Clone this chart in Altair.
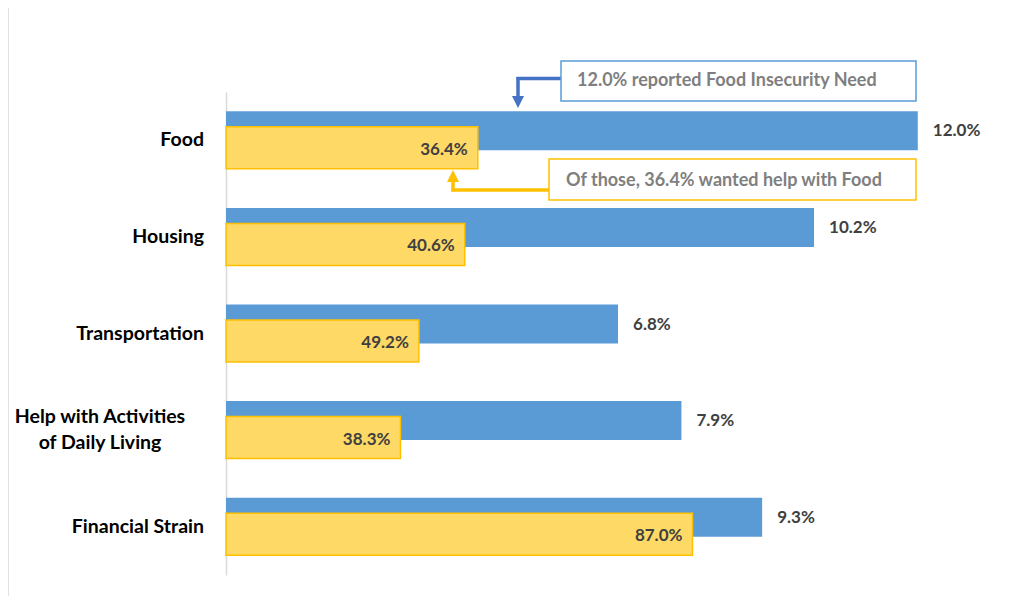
import altair as alt
import pandas as pd

categories = ["Food", "Housing", "Transportation",
              "Help with Activities of Daily Living", "Financial Strain"]
label_lines = ["Food", "Housing", "Transportation",
               "Help with Activities|of Daily Living", "Financial Strain"]
need_pct = [12.0, 10.2, 6.8, 7.9, 9.3]
wanted_pct = [36.4, 40.6, 49.2, 38.3, 87.0]

df = pd.DataFrame({"category": categories, "label": label_lines,
                   "need": need_pct, "wanted": wanted_pct})
one = pd.DataFrame({"k": [0]})

FONT = "Lato"
W, H = 780, 483
xscale = alt.Scale(domain=[0, 13.53], nice=False, zero=True)
yenc = alt.Y("category:N", sort=categories,
             scale=alt.Scale(paddingInner=0, paddingOuter=0),
             axis=alt.Axis(labels=False, ticks=False, title=None, grid=False,
                           domainColor="#D9D9D9", domainWidth=1.5))

base = alt.Chart(df).transform_calculate(
    help="datum.need * datum.wanted / 100",
    need_lbl="format(datum.need, '.1f') + '%'",
    wanted_lbl="format(datum.wanted, '.1f') + '%'",
)

blue = base.mark_bar(color="#5B9BD5", height=39, yOffset=-9.5).encode(
    x=alt.X("need:Q", scale=xscale, axis=None), y=yenc)
yellow = base.mark_bar(color="#FFD966", stroke="#FFC000", strokeWidth=1.5,
                       height=42, yOffset=7.5).encode(
    x=alt.X("help:Q", scale=xscale, axis=None), y=yenc)

blue_lbl = base.mark_text(align="left", baseline="middle", dx=15, yOffset=-9,
                          font=FONT, fontSize=17, fontWeight="bold",
                          color="#404040").encode(
    x=alt.X("need:Q", scale=xscale, axis=None), y=yenc, text="need_lbl:N")
yellow_lbl = base.mark_text(align="right", baseline="middle", dx=-10, yOffset=9.5,
                            font=FONT, fontSize=17, fontWeight="bold",
                            color="#404040").encode(
    x=alt.X("help:Q", scale=xscale, axis=None), y=yenc, text="wanted_lbl:N")

cat_single = base.transform_filter("indexof(datum.label, '|') < 0").mark_text(
    align="right", baseline="middle", font=FONT, fontSize=19.5, fontWeight="bold",
    color="#000000").encode(x=alt.value(-22), y=yenc, text="label:N")
cat_multi = base.transform_filter("indexof(datum.label, '|') >= 0").mark_text(
    align="center", baseline="middle", lineBreak="|", lineHeight=26, dy=-13,
    font=FONT, fontSize=19.5, fontWeight="bold", color="#000000").encode(
    x=alt.value(-126), y=yenc, text="label:N")

ann = alt.Chart(one)
left_line = ann.mark_rule(color="#D9D9D9", strokeWidth=1.5).encode(
    x=alt.value(-218), y=alt.value(-84), y2=alt.value(504))

box1 = ann.mark_rect(fill="white", stroke="#5B9BD5", strokeWidth=1.5).encode(
    x=alt.value(335), x2=alt.value(690), y=alt.value(-31), y2=alt.value(9))
box1_txt = ann.mark_text(align="left", baseline="middle", font=FONT, fontSize=18,
                         fontWeight="bold", color="#7F7F7F").encode(
    x=alt.value(351), y=alt.value(-11),
    text=alt.value("12.0% reported Food Insecurity Need"))
arr1_h = ann.mark_rule(color="#4472C4", strokeWidth=3.5).encode(
    x=alt.value(290.5), x2=alt.value(335), y=alt.value(-13.5))
arr1_v = ann.mark_rule(color="#4472C4", strokeWidth=3.5).encode(
    x=alt.value(292), y=alt.value(-15), y2=alt.value(6))
arr1_head = ann.mark_point(shape="M-1,-1L1,-1L0,1Z", filled=True, opacity=1,
                           color="#4472C4", size=144).encode(
    x=alt.value(292), y=alt.value(10))

box2 = ann.mark_rect(fill="white", stroke="#FFC000", strokeWidth=1.5).encode(
    x=alt.value(323), x2=alt.value(690), y=alt.value(67), y2=alt.value(108))
box2_txt = ann.mark_text(align="left", baseline="middle", font=FONT, fontSize=18,
                         fontWeight="bold", color="#7F7F7F").encode(
    x=alt.value(340), y=alt.value(89),
    text=alt.value("Of those, 36.4% wanted help with Food"))
arr2_h = ann.mark_rule(color="#FFC000", strokeWidth=3.5).encode(
    x=alt.value(225.5), x2=alt.value(323), y=alt.value(98))
arr2_v = ann.mark_rule(color="#FFC000", strokeWidth=3.5).encode(
    x=alt.value(227), y=alt.value(99.5), y2=alt.value(87))
arr2_head = ann.mark_point(shape="M-1,1L1,1L0,-1Z", filled=True, opacity=1,
                           color="#FFC000", size=144).encode(
    x=alt.value(227), y=alt.value(84))

chart = alt.layer(
    left_line, blue, yellow, blue_lbl, yellow_lbl, cat_single, cat_multi,
    arr1_h, arr1_v, arr1_head, box1, box1_txt,
    arr2_h, arr2_v, arr2_head, box2, box2_txt,
).properties(
    width=W, height=H, background="white",
    autosize=alt.AutoSizeParams(type="none"),
    padding={"left": 218, "top": 84, "right": 5, "bottom": 21},
).configure_view(strokeWidth=0, stroke=None)

chart.save("out.html", embed_options={"renderer": "svg", "actions": False})
